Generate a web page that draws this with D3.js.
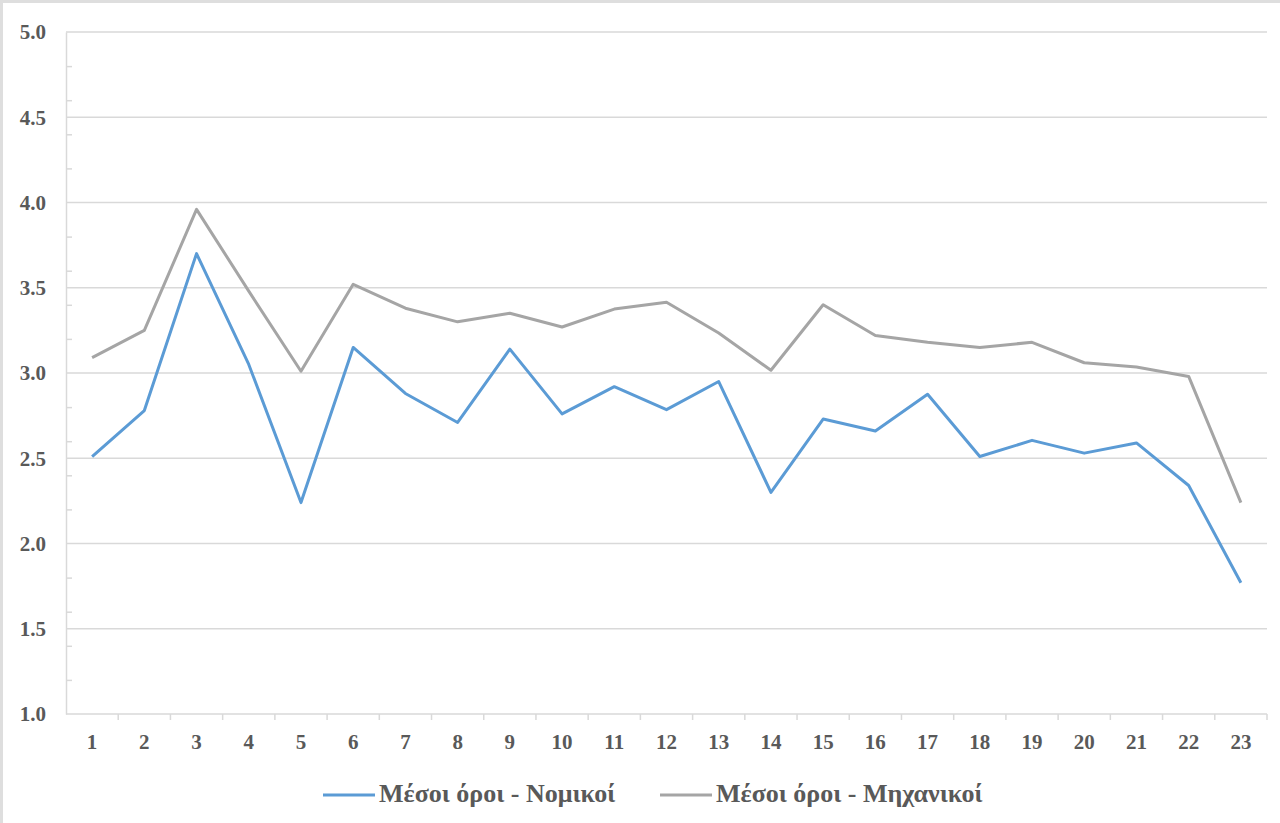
<!DOCTYPE html>
<html>
<head>
<meta charset="utf-8">
<script src="https://cdn.jsdelivr.net/npm/d3@7"></script>
<style>
  html, body { margin: 0; padding: 0; background: #fff; }
  svg { display: block; }
  .lbl { font-family: "Liberation Serif", "Times New Roman", serif; font-weight: bold; fill: #595959; }
</style>
</head>
<body>
<svg id="chart" width="1280" height="823"></svg>
<script>
// Categories along the x axis
const categories = d3.range(1, 24).map(String);

// Series: average scores
const seriesNames = ["Μέσοι όροι - Νομικοί", "Μέσοι όροι - Μηχανικοί"];
const nomikoi = [2.51, 2.78, 3.70, 3.05, 2.24, 3.15, 2.88, 2.71, 3.14, 2.76, 2.92, 2.785,
                 2.95, 2.30, 2.73, 2.66, 2.875, 2.51, 2.605, 2.53, 2.59, 2.34, 1.77];
const michanikoi = [3.09, 3.25, 3.96, 3.48, 3.01, 3.52, 3.38, 3.30, 3.35, 3.27, 3.375, 3.415,
                    3.235, 3.016, 3.40, 3.22, 3.18, 3.15, 3.18, 3.06, 3.035, 2.98, 2.24];

// Y axis ticks
const yMajor = [1.0, 1.5, 2.0, 2.5, 3.0, 3.5, 4.0, 4.5, 5.0];
const yMinor = [1.2, 1.4, 1.6, 1.8, 2.2, 2.4, 2.6, 2.8, 3.2, 3.4, 3.6, 3.8, 4.2, 4.4, 4.6, 4.8];

const colors = ["#5b9bd5", "#a5a5a5"];

const svg = d3.select("#chart");
const W = 1280, H = 823;

// container frame (top and left edges)
svg.append("rect").attr("x", 0).attr("y", 0).attr("width", W).attr("height", 3).attr("fill", "#dedede");
svg.append("rect").attr("x", 0).attr("y", 0).attr("width", 3).attr("height", H).attr("fill", "#dedede");

const plot = { left: 66, right: 1267, top: 32, bottom: 714 };

const x = d3.scaleBand().domain(categories).range([plot.left, plot.right]).padding(0);
const y = d3.scaleLinear().domain([1, 5]).range([plot.bottom, plot.top]);

// horizontal gridlines
svg.append("g").selectAll("line").data(yMajor.filter(v => v > 1)).join("line")
  .attr("x1", plot.left).attr("x2", plot.right)
  .attr("y1", d => y(d)).attr("y2", d => y(d))
  .attr("stroke", "#d9d9d9").attr("stroke-width", 1.5);

// y axis line with minor ticks pointing inward
const yAxis = d3.axisRight(y).tickValues(yMinor).tickSize(6).tickSizeOuter(0).tickFormat("");
const gy = svg.append("g").attr("transform", `translate(${plot.left},0)`).call(yAxis);
gy.select(".domain").attr("stroke", "#d9d9d9").attr("stroke-width", 1.5);
gy.selectAll(".tick line").attr("stroke", "#d9d9d9").attr("stroke-width", 1.5);

// y labels
svg.append("g").selectAll("text").data(yMajor).join("text")
  .attr("class", "lbl")
  .attr("x", 46).attr("y", d => y(d))
  .attr("dy", "0.35em")
  .attr("text-anchor", "end")
  .attr("font-size", 21)
  .text(d => d.toFixed(1));

// x axis line with ticks at category boundaries
const boundaries = d3.range(1, categories.length + 1).map(i => plot.left + i * x.bandwidth());
const gx = svg.append("g");
gx.append("line").attr("x1", plot.left).attr("x2", plot.right).attr("y1", plot.bottom).attr("y2", plot.bottom)
  .attr("stroke", "#d9d9d9").attr("stroke-width", 1.5);
gx.selectAll("line.tk").data(boundaries).join("line").attr("class", "tk")
  .attr("x1", d => d).attr("x2", d => d).attr("y1", plot.bottom).attr("y2", plot.bottom + 6)
  .attr("stroke", "#d9d9d9").attr("stroke-width", 1.5);

// x labels
svg.append("g").selectAll("text").data(categories).join("text")
  .attr("class", "lbl")
  .attr("x", d => x(d) + x.bandwidth() / 2)
  .attr("y", 749)
  .attr("text-anchor", "middle")
  .attr("font-size", 21)
  .text(d => d);

// series lines
const line = d3.line()
  .x((d, i) => x(categories[i]) + x.bandwidth() / 2)
  .y(d => y(d));

[nomikoi, michanikoi].forEach((vals, k) => {
  svg.append("path").datum(vals)
    .attr("d", line)
    .attr("fill", "none")
    .attr("stroke", colors[k])
    .attr("stroke-width", 3)
    .attr("stroke-linejoin", "round");
});

// legend
const legendY = 795;
const legendItems = [{ x: 323, name: seriesNames[0], c: colors[0] }, { x: 660, name: seriesNames[1], c: colors[1] }];
const lg = svg.append("g");
legendItems.forEach(it => {
  lg.append("line").attr("x1", it.x).attr("x2", it.x + 52).attr("y1", legendY).attr("y2", legendY)
    .attr("stroke", it.c).attr("stroke-width", 3);
  lg.append("text").attr("class", "lbl")
    .attr("x", it.x + 56).attr("y", 802)
    .attr("font-size", 26)
    .text(it.name);
});
</script>
</body>
</html>
